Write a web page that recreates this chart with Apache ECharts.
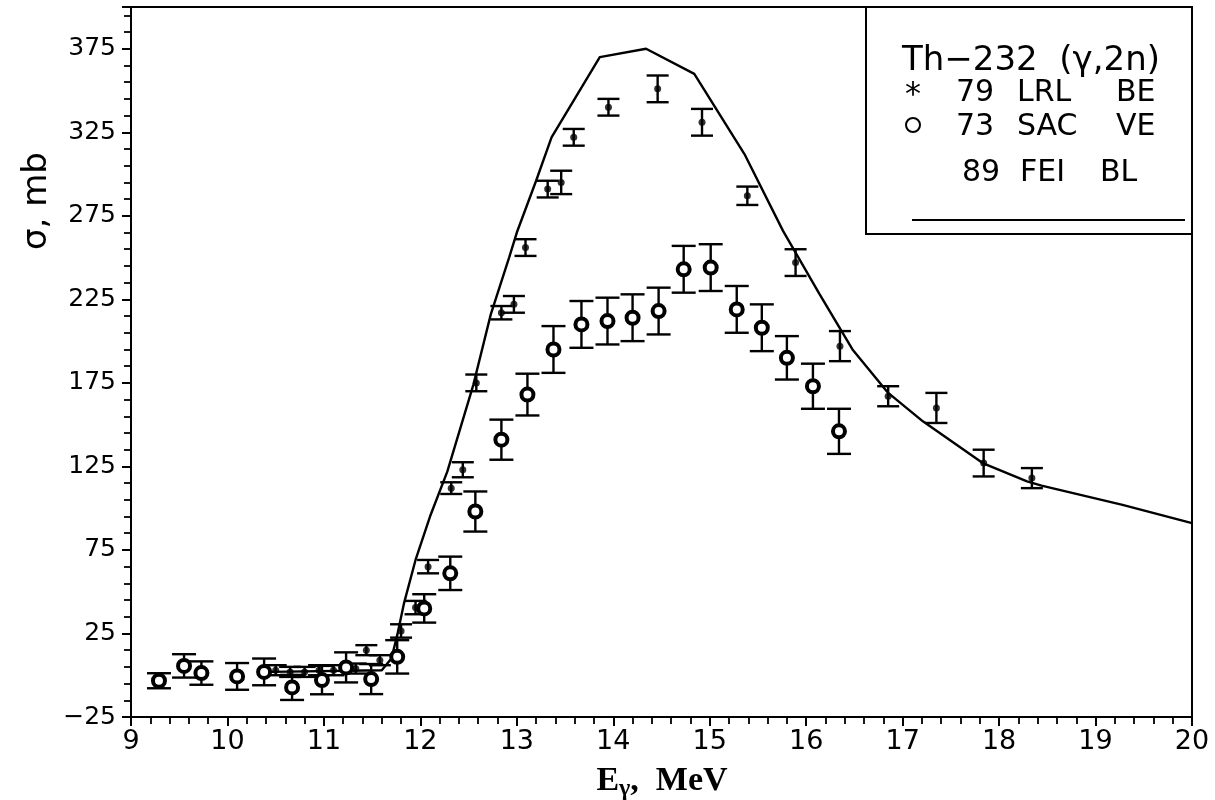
<!DOCTYPE html>
<html>
<head>
<meta charset="utf-8">
<script src="https://cdn.jsdelivr.net/npm/echarts@6/dist/echarts.min.js"></script>
<style>
  html, body { margin: 0; padding: 0; background: #fff; }
  #chart { width: 1215px; height: 800px; }
</style>
</head>
<body>
<div id="chart"></div>
<script>
// Th-232 (gamma,2n) cross section: two measurements with error bars and an evaluated curve

// 79 LRL BE (small dots)
const lrlEnergy = [10.50, 10.65, 10.80, 10.95, 11.10, 11.33, 11.44, 11.58, 11.80, 11.95,
                   12.08, 12.32, 12.44, 12.58, 12.84, 12.97, 13.09, 13.32, 13.46, 13.59,
                   13.95, 14.46, 14.92, 15.39, 15.89, 16.35, 16.85, 17.35, 17.84, 18.34];
const lrlSigma  = [3, 2, 2, 3, 3, 4, 15, 9, 26.5, 40.5,
                   65, 112, 123, 175, 217, 222, 256, 291, 295, 322,
                   340, 351, 331, 287, 247, 197, 167, 160, 127, 118];
const lrlError  = [3, 3, 3, 3, 3, 3, 3, 3, 4, 4,
                   4, 3.5, 4.5, 5, 4, 5, 5, 5, 7, 5,
                   5, 8, 8, 5.5, 8, 9, 6, 9, 8, 6];

// 73 SAC VE (open circles)
const sacEnergy = [9.29, 9.55, 9.73, 10.10, 10.38, 10.67, 10.98, 11.23, 11.49, 11.76,
                   12.04, 12.31, 12.57, 12.84, 13.11, 13.38, 13.67, 13.94, 14.20, 14.47,
                   14.73, 15.01, 15.28, 15.54, 15.80, 16.07, 16.34];
const sacSigma  = [-3.3, 5.6, 1.3, -0.7, 2, -7.3, -2.9, 4.7, -2.3, 11,
                   40, 61, 98, 141, 168, 195, 210, 212, 214, 218,
                   243, 244, 219, 208, 190, 173, 146];
const sacError  = [4.5, 7, 7, 8, 8, 7.5, 8.5, 9, 9, 10,
                   8.5, 10, 12, 12, 12.5, 14, 14, 14, 14, 14,
                   14, 14, 14, 14, 13, 13.5, 13.5];

// 89 FEI BL (solid curve)
const feiEnergy = [10.45, 11.60, 11.70, 11.76, 11.83, 11.95, 12.10, 12.28, 12.55, 12.73,
                   12.92, 13.00, 13.20, 13.36, 13.86, 14.34, 14.84, 15.36, 15.76, 16.14,
                   16.48, 16.85, 17.21, 17.83, 18.29, 18.44, 19.28, 20.00];
const feiSigma  = [2, 3, 10, 24, 43, 69, 95, 122, 174, 216,
                   250, 265, 296, 322, 370, 375, 360, 312, 266, 228,
                   195, 169, 152, 127, 116, 113.5, 102, 91];

const xTicks = [9, 10, 11, 12, 13, 14, 15, 16, 17, 18, 19, 20];
const yTicks = [-25, 25, 75, 125, 175, 225, 275, 325, 375];

const pairs = (xs, ys) => xs.map((x, i) => [x, ys[i]]);
const bars = (xs, ys, es) => xs.map((x, i) => [x, ys[i] - es[i], ys[i] + es[i]]);

function errorBarRenderer(capHalf) {
  return function (params, api) {
    const x = api.value(0);
    const top = api.coord([x, api.value(2)]);
    const bot = api.coord([x, api.value(1)]);
    const st = { stroke: '#000', lineWidth: 2.4 };
    return {
      type: 'group',
      children: [
        { type: 'line', shape: { x1: top[0], y1: top[1], x2: bot[0], y2: bot[1] }, style: st },
        { type: 'line', shape: { x1: top[0] - capHalf, y1: top[1], x2: top[0] + capHalf, y2: top[1] }, style: st },
        { type: 'line', shape: { x1: bot[0] - capHalf, y1: bot[1], x2: bot[0] + capHalf, y2: bot[1] }, style: st }
      ]
    };
  };
}

const chart = echarts.init(document.getElementById('chart'), null, { renderer: 'canvas' });

const labelFont = 'DejaVu Sans';
const legendText = (txt, x, y, size) => ({
  type: 'text', x: x, y: y, z: 11,
  style: { text: txt, fontFamily: labelFont, fontSize: size, fill: '#000', verticalAlign: 'middle' }
});

chart.setOption({
  animation: false,
  backgroundColor: '#fff',
  grid: {
    left: 131, right: 23, top: 7, bottom: 83,
    show: true, borderColor: '#000', borderWidth: 2, backgroundColor: 'transparent'
  },
  xAxis: {
    type: 'value',
    min: xTicks[0], max: xTicks[xTicks.length - 1], interval: 1,
    axisLine: { onZero: false, lineStyle: { color: '#000', width: 2 } },
    axisTick: { show: true, inside: false, length: 9, lineStyle: { color: '#000', width: 2 } },
    minorTick: { show: true, splitNumber: 5, length: 7, lineStyle: { color: '#000', width: 1.8 } },
    splitLine: { show: false },
    axisLabel: {
      margin: 11, color: '#000', fontFamily: labelFont, fontSize: 27,
      formatter: v => (xTicks.indexOf(v) >= 0 ? String(v) : '')
    }
  },
  yAxis: {
    type: 'value',
    min: -25, max: 400, interval: 50,
    axisLine: { onZero: false, lineStyle: { color: '#000', width: 2 } },
    axisTick: { show: true, inside: false, length: 9, lineStyle: { color: '#000', width: 2 } },
    minorTick: { show: true, splitNumber: 5, length: 7, lineStyle: { color: '#000', width: 1.8 } },
    splitLine: { show: false },
    axisLabel: {
      margin: 15, color: '#000', fontFamily: labelFont, fontSize: 25,
      formatter: v => (yTicks.indexOf(v) >= 0 ? String(v).replace('-', '\u2212') : '')
    }
  },
  series: [
    {
      name: '89 FEI BL', type: 'line', data: pairs(feiEnergy, feiSigma),
      showSymbol: false, smooth: false,
      lineStyle: { color: '#000', width: 2.4 }, z: 2
    },
    {
      name: 'LRL errors', type: 'custom', data: bars(lrlEnergy, lrlSigma, lrlError),
      encode: { x: 0, y: [1, 2] }, renderItem: errorBarRenderer(11), z: 3
    },
    {
      name: 'SAC errors', type: 'custom', data: bars(sacEnergy, sacSigma, sacError),
      encode: { x: 0, y: [1, 2] }, renderItem: errorBarRenderer(12), z: 3
    },
    {
      name: '79 LRL BE', type: 'scatter', data: pairs(lrlEnergy, lrlSigma),
      symbol: 'circle', symbolSize: 7,
      itemStyle: { color: '#000', borderColor: '#000', borderWidth: 0 }, z: 5
    },
    {
      name: '73 SAC VE', type: 'scatter', data: pairs(sacEnergy, sacSigma),
      symbol: 'circle', symbolSize: 12,
      itemStyle: { color: '#fff', borderColor: '#000', borderWidth: 4, opacity: 1 }, z: 5
    }
  ],
  graphic: [
    // axis titles
    {
      type: 'text', x: 20, y: 250, rotation: Math.PI / 2,
      style: { text: '\u03C3, mb', fontFamily: labelFont, fontSize: 34, fill: '#000' }
    },
    {
      type: 'text', x: 662, y: 781,
      style: {
        text: '{e|E}{g|\u03B3}{e|,  MeV}', align: 'center', verticalAlign: 'middle',
        rich: {
          e: { fontFamily: 'Liberation Serif', fontSize: 34, fill: '#000', fontWeight: 'bold' },
          g: { fontFamily: 'Liberation Serif', fontSize: 24, fill: '#000', fontWeight: 'bold', padding: [15, 0, 0, 0] }
        }
      }
    },
    // legend box
    {
      type: 'rect', shape: { x: 866, y: 7, width: 326, height: 227 },
      style: { fill: '#fff', stroke: '#000', lineWidth: 2 }, z: 10
    },
    legendText('Th\u2212232  (\u03B3,2n)', 902, 61, 34),
    {
      type: 'text', x: 913, y: 96, z: 11,
      style: { text: '*', fontFamily: labelFont, fontSize: 32, fill: '#000', align: 'center', verticalAlign: 'middle' }
    },
    {
      type: 'circle', shape: { cx: 913, cy: 125, r: 7 }, z: 11,
      style: { fill: '#fff', stroke: '#000', lineWidth: 2 }
    },
    legendText('79', 956, 93, 30), legendText('LRL', 1017, 93, 30), legendText('BE', 1116, 93, 30),
    legendText('73', 956, 127, 30), legendText('SAC', 1017, 127, 30), legendText('VE', 1116, 127, 30),
    legendText('89', 962, 173, 30), legendText('FEI', 1020, 173, 30), legendText('BL', 1100, 173, 30),
    {
      type: 'line', shape: { x1: 912, y1: 220, x2: 1185, y2: 220 }, z: 11,
      style: { stroke: '#000', lineWidth: 2 }
    }
  ]
});
</script>
</body>
</html>
